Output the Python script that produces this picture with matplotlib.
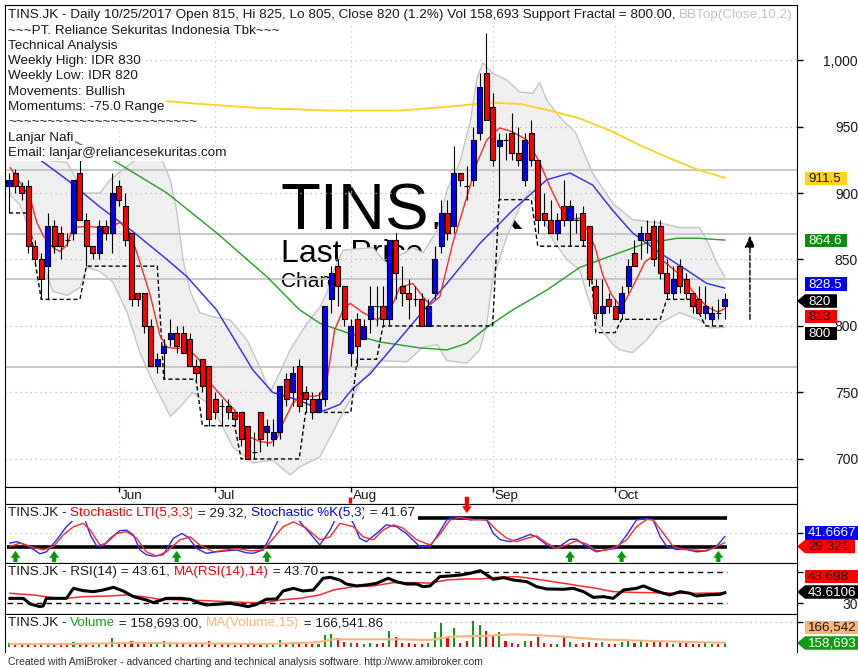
import numpy as np
import matplotlib.pyplot as plt
from matplotlib.patches import Polygon

plt.rcParams['font.family'] = ['Liberation Sans', 'DejaVu Sans']

W, H = 858, 668
DARK = '#1a1a1a'

# daily bars TINS.JK
opens = [905, 915, 905, 905, 860, 850, 845, 875, 870, 865,
         870, 915, 880, 860, 855, 875, 870, 905, 890, 870,
         825, 825, 800, 770, 780, 790, 795, 795, 790, 770,
         775, 770, 745, 740, 740, 735, 735, 725, 705, 735,
         720, 715, 720, 760, 750, 770, 750, 745, 735, 745,
         820, 845, 830, 780, 805, 790, 805, 815, 815, 805,
         865, 830, 825, 820, 820, 800, 825, 860, 885, 875,
         915, 905, 910, 945, 990, 965, 935, 940, 945, 930,
         910, 945, 925, 885, 880, 870, 890, 880, 880, 885,
         875, 830, 810, 820, 815, 810, 830, 855, 865, 870,
         875, 875, 840, 825, 845, 835, 825, 820, 810, 805,
         810, 815]
highs = [915, 918, 908, 910, 865, 855, 885, 880, 875, 870,
         910, 925, 885, 860, 880, 880, 915, 910, 900, 870,
         825, 825, 805, 780, 790, 805, 800, 800, 795, 775,
         775, 770, 750, 745, 745, 735, 735, 725, 720, 735,
         730, 730, 755, 765, 770, 775, 755, 750, 750, 815,
         845, 850, 830, 805, 810, 805, 830, 830, 830, 865,
         870, 845, 835, 830, 825, 820, 860, 895, 895, 935,
         915, 920, 950, 990, 1020, 975, 945, 945, 960, 950,
         945, 955, 925, 900, 895, 885, 910, 895, 885, 890,
         875, 835, 835, 825, 820, 830, 850, 865, 875, 880,
         880, 880, 850, 845, 850, 840, 825, 830, 830, 815,
         820, 825]
lows = [885, 900, 895, 855, 845, 820, 820, 855, 850, 860,
        865, 880, 845, 850, 850, 865, 855, 890, 860, 815,
        815, 795, 770, 765, 760, 785, 780, 780, 770, 760,
        750, 725, 730, 725, 730, 725, 710, 700, 700, 705,
        710, 710, 715, 740, 740, 735, 735, 730, 735, 740,
        810, 815, 800, 770, 770, 790, 795, 800, 800, 800,
        820, 815, 805, 815, 800, 800, 820, 855, 865, 870,
        905, 895, 905, 940, 955, 920, 895, 925, 925, 920,
        905, 920, 870, 875, 870, 865, 875, 860, 870, 860,
        830, 805, 800, 810, 805, 805, 825, 845, 850, 855,
        845, 835, 820, 820, 825, 820, 810, 810, 805, 800,
        805, 805]
closes = [910, 905, 900, 860, 850, 835, 875, 860, 860, 865,
          910, 880, 860, 855, 875, 870, 900, 895, 865, 820,
          820, 800, 770, 775, 785, 795, 785, 780, 770, 765,
          755, 730, 735, 740, 735, 730, 715, 700, 705, 715,
          725, 720, 755, 745, 765, 740, 745, 735, 745, 815,
          840, 830, 805, 800, 785, 800, 815, 815, 805, 865,
          840, 825, 820, 820, 800, 815, 850, 885, 870, 915,
          910, 905, 940, 980, 955, 925, 940, 940, 930, 925,
          940, 925, 880, 880, 870, 880, 880, 890, 880, 865,
          835, 810, 815, 815, 805, 825, 845, 845, 870, 865,
          850, 840, 825, 835, 830, 825, 815, 810, 815, 810,
          810, 820]
volume_k = [160, 120, 110, 140, 120, 130, 150, 130, 120, 160,
            200, 110, 120, 100, 150, 120, 380, 120, 150, 250,
            130, 200, 170, 120, 230, 150, 130, 150, 110, 120,
            140, 230, 160, 150, 120, 100, 120, 140, 110, 120,
            130, 120, 300, 150, 220, 150, 120, 140, 130, 480,
            520, 370, 200, 150, 180, 140, 160, 130, 160, 650,
            420, 160, 150, 120, 140, 160, 600, 960, 360, 760,
            150, 260, 1040, 880, 640, 480, 600, 240, 160, 140,
            240, 240, 400, 150, 120, 140, 400, 190, 120, 160,
            200, 150, 200, 130, 120, 220, 240, 160, 230, 180,
            200, 200, 150, 140, 160, 150, 140, 140, 150, 130,
            120, 158.693]
support = [885, 885, 885, 885, 850, 820, 820, 820, 820, 820,
           820, 820, 845, 845, 845, 845, 845, 845, 845, 845,
           845, 845, 845, 845, 760, 760, 760, 760, 760, 760,
           725, 725, 725, 725, 725, 725, 700, 700, 700, 700,
           700, 700, 700, 700, 700, 700, 735, 735, 735, 735,
           735, 735, 735, 735, 775, 775, 775, 775, 800, 800,
           800, 800, 800, 800, 800, 800, 800, 800, 800, 800,
           800, 800, 800, 800, 800, 800, 895, 895, 895, 895,
           895, 895, 860, 860, 860, 860, 860, 860, 860, 860,
           860, 795, 795, 795, 795, 805, 805, 805, 805, 805,
           805, 805, 820, 820, 820, 820, 820, 810, 800, 800,
           800, 800]

# overlay lines, sampled along the bars (bar index, value)
yellow_i = [0, 24.5, 29.6, 38.4, 49.8, 60.6, 68.4, 74.6, 79.2, 83.9, 88.5, 93.2, 97.8, 102.5, 107.1, 111]
yellow_v = [972, 969, 967, 964, 962, 962, 965, 968, 967, 962, 956, 947, 936, 926, 917, 911.5]
green_i = [0.2, 10.5, 16.7, 24.5, 32.2, 40.0, 45.1, 48.2, 52.4, 57.5, 63.7, 67.9, 71.0, 74.1, 78.1,
           83.4, 88.5, 93.5, 98.6, 103.7, 106.8, 111]
green_v = [961, 938, 923, 900, 870, 837, 812, 802, 795, 788, 783.5, 782, 787, 799, 812,
           827, 844, 853, 862, 866, 866, 864.6]
blue_i = [0.2, 4.8, 9.0, 14.1, 19.2, 24.5, 27.6, 32.2, 34.7, 37.8, 40.9, 45.1, 48.7, 51.3, 53.3,
          56.0, 62.6, 67.9, 73.0, 78.1, 83.4, 87.0, 90.5, 93.6, 96.7, 100.9, 105.1, 108.2, 111]
blue_v = [940, 925, 910, 889.5, 871, 850, 837, 812, 792, 767, 750, 744, 736, 741, 753,
          764, 802, 832, 862, 887, 910, 915, 906, 887, 870, 855, 842, 832, 828.5]
red_i = [0.2, 1.7, 3.3, 4.3, 5.3, 6.8, 7.9, 9.0, 9.9, 12.1, 14.1, 15.7, 17.2, 18.8, 20.3, 21.9,
         23.4, 24.5, 26.0, 27.6, 29.6, 31.2, 33.2, 35.3, 37.4, 38.9, 40.5, 41.6, 42.5, 44.0,
         45.6, 47.1, 48.2, 49.3, 50.5, 51.8, 52.9, 54.9, 57.1, 59.1, 60.6, 62.6, 64.2, 65.3,
         66.8, 68.8, 71.0, 72.6, 74.1, 76.1, 78.1, 80.3, 82.3, 83.9, 85.4, 87.0, 88.5, 89.3,
         90.9, 92.1, 93.5, 95.0, 95.8, 97.1, 98.6, 99.7, 100.9, 102.2, 103.7, 105.3, 106.8,
         108.4, 109.9, 111]
red_v = [919, 908, 896, 878, 868, 859, 856, 861, 874, 875, 874, 874, 878, 870, 848, 823,
         793, 784, 783, 784, 774, 757, 746, 735, 716.5, 713, 712, 716, 727, 742,
         748, 747, 748, 759, 797, 812, 817, 810, 804.5, 812, 829, 832, 822, 816,
         822, 862, 897, 923, 940, 949, 946, 940, 923, 904.5, 889.5, 880, 881, 876,
         859, 838, 823, 813.5, 821, 833, 848, 852, 851, 846, 840, 831, 821,
         814, 810.5, 813]
bbu_i = [0.2, 5.3, 9.0, 10.5, 11.5, 14.1, 15.7, 18.3, 20.8, 23.4, 25.0, 26.0, 27.0, 28.1,
         29.6, 31.6, 34.3, 36.9, 38.9, 40.5, 42.0, 43.6, 46.2, 48.2, 49.3, 50.2, 51.8, 56.4,
         58.6, 62.6, 64.2, 66.4, 67.9, 69.9, 71.5, 72.6, 73.5, 75.0, 77.2, 79.2, 81.2, 82.3,
         83.4, 85.4, 87.8, 90.5, 93.6, 96.7, 100.9, 104.0, 107.1, 108.2, 109.8, 111]
bbu_v = [932, 925, 923, 910, 900, 900, 910, 920, 929, 929, 910, 887, 850, 826,
         810, 807, 804.5, 789.5, 769, 750, 765, 782, 802, 814, 825, 840, 857, 859,
         847, 859, 855, 872, 902, 923, 953, 987, 998, 990, 985, 976, 975, 983,
         970, 957, 946, 915, 892.5, 880, 877.5, 874, 874, 865, 847, 837]
bbl_i = [0.2, 1.7, 3.7, 5.3, 6.8, 9.0, 11.0, 12.1, 14.1, 16.1, 18.3, 20.3, 22.3, 23.9,
         25.0, 26.5, 28.5, 31.6, 34.7, 37.8, 40.9, 43.6, 45.1, 48.2, 49.8, 51.8, 54.4, 57.5,
         61.7, 64.2, 66.4, 67.9, 71.0, 73.0, 74.1, 75.0, 77.2, 79.2, 80.8, 82.3, 84.3, 86.5,
         88.5, 89.8, 91.3, 93.5, 94.7, 96.7, 98.9, 100.9, 104.0, 107.1, 108.7, 111]
bbl_v = [898.5, 891, 866, 846, 826, 823, 829, 844, 841, 833, 810.5, 780, 758, 743,
         732, 739, 750, 739, 709, 697, 699, 688, 694, 701.5, 716.5, 735, 757, 774,
         773, 784, 786, 774, 772, 782, 802, 835, 867, 889.5, 902, 887, 865, 850,
         842, 821, 801, 787, 782, 780, 789.5, 802, 810, 804.5, 798.5, 799]
levels = [917, 869, 835, 769]
target = [805, 868]

# stochastic panel
stk_i = [0.15, 1.2, 2.7, 4.8, 5.8, 7.4, 8.9, 10.0, 11.0, 11.8, 12.6, 13.6, 14.6, 15.7, 17.2,
         18.2, 19.3, 20.3, 21.3, 22.4, 23.9, 25.5, 26.8, 27.8, 29.1, 30.6, 32.2, 33.7, 35.3,
         36.8, 37.9, 39.4, 40.5, 41.5, 42.5, 44.1, 45.1, 46.7, 48.2, 49.8, 50.8, 52.3, 53.4,
         54.4, 55.4, 57.0, 58.5, 60.1, 61.6, 63.7, 65.3, 66.3, 67.9, 68.9, 70.5, 71.5, 73.1,
         74.1, 75.1, 76.2, 77.7, 79.3, 80.8, 81.8, 83.4, 84.9, 87.0, 88.0, 89.6, 91.1, 92.7,
         94.2, 95.8, 97.3, 98.9, 99.9, 101.0, 102.0, 103.5, 105.1, 106.6, 108.2, 109.7, 111.0]
stk_v = [28, 31, 24, 6, 10, 35, 62, 76, 92, 76, 45, 22, 22, 38, 54,
         55, 45, 14, 4, 1, 4, 38, 48, 40, 17, 7, 10, 12, 14,
         8, 7, 14, 41, 69, 92, 92, 72, 48, 24, 55, 83, 92, 69,
         38, 31, 48, 66, 62, 48, 21, 21, 41, 76, 83, 79, 76, 77,
         76, 48, 35, 31, 38, 46, 41, 24, 17, 36, 36, 21, 10, 15,
         17, 45, 76, 79, 76, 41, 21, 15, 15, 10, 12, 21, 41.67]
lti_i = [0.15, 1.7, 3.3, 5.3, 6.9, 8.4, 10.0, 11.5, 12.6, 14.1, 15.1, 16.7, 18.2, 19.8, 21.3,
         22.9, 24.4, 26.5, 28.1, 29.6, 31.7, 33.7, 35.3, 37.4, 39.4, 41.0, 42.5, 44.1, 46.1,
         48.2, 49.8, 51.3, 53.4, 54.9, 56.5, 58.0, 59.6, 61.1, 63.2, 65.3, 66.9, 68.4, 70.0,
         72.0, 74.1, 75.6, 77.2, 78.7, 80.3, 81.8, 83.4, 84.9, 86.5, 88.0, 89.6, 91.1, 92.7,
         94.2, 95.8, 97.3, 98.9, 99.9, 101.5, 103.0, 104.6, 106.1, 107.7, 109.2, 111.0]
lti_v = [21, 28, 21, 14, 21, 45, 62, 69, 55, 24, 28, 48, 52, 38, 10,
         1, 10, 35, 41, 24, 10, 14, 17, 12, 14, 38, 62, 72, 59,
         35, 41, 69, 62, 41, 35, 55, 66, 59, 35, 24, 48, 76, 81,
         77, 76, 55, 38, 31, 38, 43, 28, 17, 24, 33, 26, 12, 14,
         21, 35, 62, 77, 76, 48, 21, 15, 14, 12, 17, 29.32]
buy_idx = [1, 7, 26, 40, 87, 95, 110]
sell_idx = [71]

# RSI panel
rsi_i = [0.15, 2.2, 3.3, 4.8, 5.3, 5.8, 8.9, 10.0, 11.5, 13.1, 14.6, 16.2, 17.7, 19.3, 21.3,
         22.4, 24.4, 26.5, 28.1, 29.6, 30.6, 32.2, 34.3, 35.8, 37.1, 38.4, 39.9, 41.5, 42.5,
         44.1, 45.6, 47.2, 48.7, 49.8, 51.3, 52.3, 53.9, 55.4, 57.0, 58.8, 60.1, 61.6, 63.2,
         64.2, 65.3, 66.8, 68.4, 70.0, 71.5, 73.1, 74.1, 75.1, 76.7, 78.2, 80.3, 81.8, 83.4,
         86.0, 87.5, 89.1, 90.6, 92.2, 93.7, 95.3, 97.3, 98.4, 99.9, 101.5, 102.5, 104.1,
         105.6, 106.6, 108.2, 110.3, 111.0]
rsi_v = [36.4, 36.4, 29.1, 25.7, 26.6, 36.4, 36.4, 49.3, 46.3, 45.0, 47.2, 50.6, 45.9, 38.6, 34.3,
         30.9, 36.4, 36.4, 35.2, 30.0, 27.9, 28.7, 30.0, 27.9, 25.7, 28.7, 35.2, 35.6, 45.9,
         49.3, 45.9, 47.2, 62.3, 63.5, 60.1, 54.9, 52.4, 53.6, 55.8, 62.3, 57.9, 54.9, 54.9,
         51.5, 52.4, 64.4, 65.3, 66.5, 68.7, 72.1, 66.5, 61.0, 63.1, 60.1, 57.9, 51.5, 48.5,
         48.1, 49.3, 45.0, 37.7, 38.6, 36.4, 47.2, 49.3, 52.4, 47.2, 42.9, 40.8, 45.0,
         42.9, 39.5, 40.8, 41.6, 43.61]
rsima_i = [0.15, 3.8, 6.4, 8.9, 11.5, 15.7, 18.2, 20.8, 23.4, 27.0, 30.6, 34.8, 37.4, 39.9,
           42.0, 45.1, 48.2, 50.3, 53.4, 56.5, 59.6, 62.7, 65.3, 67.9, 70.5, 73.1, 75.6, 78.7,
           80.8, 83.4, 86.0, 88.6, 91.1, 93.7, 96.3, 98.9, 101.5, 104.1, 106.6, 109.2, 111.0]
rsima_v = [42.9, 40.8, 37.7, 36.4, 38.6, 39.5, 40.8, 38.6, 35.2, 34.3, 33.4, 31.7, 30.9, 30.9,
           34.3, 36.4, 40.8, 47.2, 51.5, 52.4, 56.7, 56.7, 56.0, 60.1, 61.4, 61.4, 63.5, 64.4,
           62.3, 59.2, 55.8, 52.4, 49.3, 45.0, 44.2, 43.8, 43.3, 42.9, 42.9, 43.3, 43.70]

# volume moving average
vma_i = [0.15, 8.9, 15.7, 19.3, 24.4, 29.6, 39.9, 47.7, 50.3, 55.4, 60.6, 65.3, 68.4, 73.1,
         78.2, 82.4, 86.0, 91.1, 96.3, 101.5, 106.6, 111.0]
vma_v = [120, 120, 147, 173, 147, 147, 120, 187, 307, 307, 307, 280, 413, 440,
         507, 467, 413, 307, 267, 227, 200, 166.542]

month_names = ['Jun', 'Jul', 'Aug', 'Sep', 'Oct']
month_idx = [17, 32, 53, 75, 94]

info_lines = ['~~~PT. Reliance Sekuritas Indonesia Tbk~~~', 'Technical Analysis',
              'Weekly High: IDR 830', 'Weekly Low: IDR 820', 'Movements: Bullish',
              'Momentums: -75.0 Range', '~' * 24, 'Lanjar Nafi',
              'Email: lanjar@reliancesekuritas.com']

TXT = 9.7

fig = plt.figure(figsize=(W / 100, H / 100), dpi=100)


def panel(top, bottom):
    a = fig.add_axes([5 / W, 1 - bottom / H, 792 / W, (bottom - top) / H])
    a.set_xlim(-0.62, 122.2)
    a.set_xticks([])
    a.yaxis.tick_right()
    a.tick_params(axis='y', length=4, width=1, pad=40, labelsize=10, labelcolor=DARK)
    return a


def right_ticks(a, ticks, labels):
    a.set_yticks(ticks, labels)
    for t in a.get_yticklabels():
        t.set_horizontalalignment('right')


def text_line(a, x, y, parts, size=TXT):
    prev = None
    for s, col in parts:
        kw = dict(fontsize=size, color=col, ha='left', zorder=10, annotation_clip=False,
                  bbox=dict(boxstyle='square,pad=0.15', fc='white', ec='none'))
        if prev is None:
            prev = a.annotate(s, xy=(x, H - y), xycoords='figure pixels', va='center', **kw)
        else:
            prev = a.annotate(s, xy=(1, 0), xycoords=prev, va='bottom', **kw)


def tag(y, text, fc, tc, x1=847, arrow=False, h=13.5):
    top, bot = y - h / 2, y + h / 2
    pts = [(805, top), (x1, top), (x1, bot), (805, bot)]
    if arrow:
        pts = [(797, y)] + pts
    pts = [(px / W, 1 - py / H) for px, py in pts]
    fig.add_artist(Polygon(pts, closed=True, fc=fc, ec='none', transform=fig.transFigure, zorder=5))
    fig.text(808 / W, 1 - (y + 0.5) / H, text, color=tc, fontsize=9.6, va='center', ha='left', zorder=6)


idx = np.arange(len(closes))
o, hi, lo, c = (np.array(v, dtype=float) for v in (opens, highs, lows, closes))
up = c > o

# ---------------- price pane ----------------
ax = panel(5, 487)
ax.set_ylim(678.9, 1041.4)
right_ticks(ax, [700, 750, 800, 850, 900, 950, 1000],
            ['700', '750', '800', '850', '900', '950', '1,000'])

ax.annotate('TINS.JK', xy=(280, H - 230), xycoords='figure pixels', fontsize=47,
            va='baseline', ha='left', color='black', zorder=0.5)
ax.annotate('Last Price', xy=(281, H - 262), xycoords='figure pixels', fontsize=23,
            va='baseline', ha='left', color='black', zorder=0.5)
ax.annotate('Change', xy=(281, H - 287), xycoords='figure pixels', fontsize=15,
            va='baseline', ha='left', color='black', zorder=0.5)

ax.fill(np.r_[bbu_i, bbl_i[::-1]], np.r_[bbu_v, bbl_v[::-1]], fc='#efefef', ec='none', zorder=1)
ax.plot(bbu_i, bbu_v, color='#c6c6c6', lw=1, zorder=1.2)
ax.plot(bbl_i, bbl_v, color='#c6c6c6', lw=1, zorder=1.2)

for p in range(700, 1001, 50):
    ax.axhline(p, color='#b8b8b8', lw=0.9, ls=(0, (1, 3)), zorder=1.5)
for m in month_idx:
    ax.axvline(m, color='#c8c8c8', lw=0.9, ls=(0, (1, 3)), zorder=1.5)
for p in levels:
    ax.axhline(p, color='#c4c4c4', lw=1.3, zorder=1.6)

ax.plot(idx, support, color='black', lw=1, ls=(0, (3, 2)), zorder=3.5)
ax.plot(yellow_i, yellow_v, color='#ffd21f', lw=1.3, zorder=3)
ax.plot(green_i, green_v, color='#23a023', lw=1, zorder=3)
ax.plot(blue_i, blue_v, color='#2a2aff', lw=1, zorder=3)
ax.plot(red_i, red_v, color='#ff2a2a', lw=1, zorder=3.6)

ax.vlines(idx, lo, hi, color='black', lw=0.8, zorder=4)
ax.bar(idx, np.abs(c - o), bottom=np.minimum(o, c), width=0.78,
       color=np.where(up, '#0000ff', '#ff0000'), edgecolor='black', linewidth=0.8, zorder=5)

ax.annotate('', xy=(114.9, target[1]), xytext=(114.9, target[0]),
            arrowprops=dict(arrowstyle='-|>,head_length=0.7,head_width=0.3', color='black',
                            lw=1, ls='--', shrinkA=0, shrinkB=0))

text_line(ax, 8, 15, [('TINS.JK - Daily 10/25/2017 Open 815, Hi 825, Lo 805, Close 820 (1.2%) '
                        'Vol 158,693 Support Fractal = 800.00, ', DARK),
                       ('BBTop(Close,10,2)', '#c4c4c4')])
for k, s in enumerate(info_lines):
    text_line(ax, 8, 30.5 + 15.3 * k, [(s, DARK)])

tag(178.5, '911.5', '#ffd21f', DARK)
tag(240.5, '864.6', '#0f8c0f', 'white')
tag(284, '828.5', '#0000ff', 'white')
tag(301, '820', 'black', 'white', x1=837, arrow=True)
tag(316.5, '813', '#ff0000', DARK, x1=837)
tag(333.5, '800', 'black', 'white', x1=837)

# ---------------- date strip ----------------
axd = panel(487, 504)
axd.set_ylim(0, 1)
axd.set_yticks([])
axd.vlines(month_idx, 0.68, 1, color='black', lw=1)
for m, name in zip(month_idx, month_names):
    axd.text(m + 0.35, 0.45, name, fontsize=TXT, color=DARK, va='center', ha='left')
axd.vlines(52.9, 0.05, 0.42, color='#ff0000', lw=2.5)

# ---------------- stochastic pane ----------------
axs = panel(504, 563)
axs.set_ylim(-13.1, 109)
axs.set_yticks([50], [''])
axs.axhline(50, color='#b8b8b8', lw=0.9, ls=(0, (1, 3)), zorder=1)
axs.hlines([80, 20], -0.3, 111.3, color='black', lw=2.6, zorder=2)
axs.plot(stk_i, stk_v, color='#2a2aff', lw=1, zorder=3)
axs.plot(lti_i, lti_v, color='#ff2a2a', lw=1, zorder=3)
for b in buy_idx:
    axs.annotate('', xy=(b, 12), xytext=(b, -11), annotation_clip=False,
                 arrowprops=dict(arrowstyle='simple,head_length=0.5,head_width=0.7,tail_width=0.3',
                                 fc='#0a960a', ec='none', shrinkA=0, shrinkB=0))
for s_ in sell_idx:
    axs.annotate('', xy=(s_, 90), xytext=(s_, 124), annotation_clip=False,
                 arrowprops=dict(arrowstyle='simple,head_length=0.5,head_width=0.7,tail_width=0.3',
                                 fc='#ff0000', ec='none', shrinkA=0, shrinkB=0))
text_line(axs, 8, 513, [('TINS.JK - ', DARK), ('Stochastic LTI(5,3,3)', '#ff0000'),
                        (' = 29.32, ', DARK), ('Stochastic %K(5,3)', '#0000ff'),
                        (' = 41.67', DARK)])
tag(533, '41.6667', '#0000ff', 'white', x1=858)
tag(546.5, '29.321', '#ff0000', DARK, x1=855, arrow=True)

# ---------------- RSI pane ----------------
axr = panel(563, 614)
axr.set_ylim(16.2, 82)
right_ticks(axr, [30, 70], ['30', ''])
axr.hlines([70, 30], -0.3, 111.3, color='black', lw=1, ls=(0, (4, 3)), zorder=2)
axr.plot(rsima_i, rsima_v, color='#ff2a2a', lw=1.1, zorder=3)
axr.plot(rsi_i, rsi_v, color='black', lw=2.2, zorder=3.5)
text_line(axr, 8, 572, [('TINS.JK - RSI(14) = 43.61, ', DARK), ('MA(RSI(14),14)', '#ff0000'),
                        (' = 43.70', DARK)])
tag(576.5, '43.698', '#ff0000', DARK, x1=858)
tag(592, '43.6106', 'black', 'white', x1=858, arrow=True)

# ---------------- volume pane ----------------
axv = panel(614, 652)
axv.set_ylim(-200, 1320)
axv.set_yticks([1000], [''])
axv.spines['bottom'].set_visible(False)
axv.axhline(1000, color='#b8b8b8', lw=0.9, ls=(0, (1, 3)), zorder=1)
axv.bar(idx, volume_k, width=0.32, color=np.where(up, '#129a12', '#ff0000'), zorder=2)
axv.plot(vma_i, vma_v, color='#ffb47a', lw=1.5, zorder=3)
text_line(axv, 8, 623, [('TINS.JK - ', DARK), ('Volume', '#1aa01a'),
                        (' = 158,693.00, ', DARK), ('MA(Volume,15)', '#ffb47a'),
                        (' = 166,541.86', DARK)])
tag(627.5, '166,542', '#f9b47c', DARK, x1=858)
tag(643, '158,693', '#129a12', 'white', x1=858, arrow=True)

fig.text(8 / W, 1 - 662 / H, 'Created with AmiBroker - advanced charting and technical analysis '
         'software. http://www.amibroker.com', fontsize=7.5, color='#333333', va='center', ha='left')

fig.savefig('out.png', dpi=100)
